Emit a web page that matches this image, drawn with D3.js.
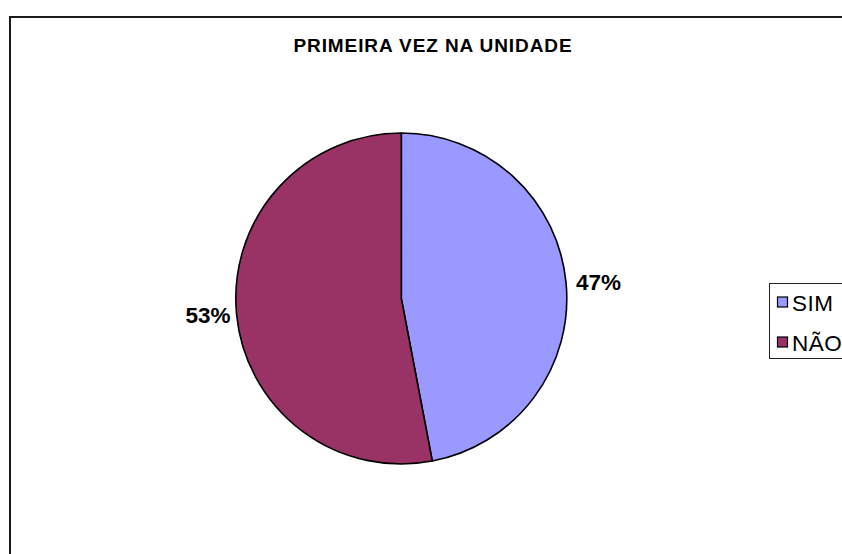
<!DOCTYPE html>
<html>
<head>
<meta charset="utf-8">
<script src="https://cdn.jsdelivr.net/npm/d3@7"></script>
<style>
  html, body { margin: 0; padding: 0; background: #fff; }
  svg { display: block; }
</style>
</head>
<body>
<svg id="chart" width="842" height="554"></svg>
<script>
const title = "PRIMEIRA VEZ NA UNIDADE";
const categories = ["SIM", "NÃO"];
const values = [47, 53];
const colors = ["#9999FF", "#993366"];

const svg = d3.select("#chart");
const W = 842, H = 554;
const font = "'Liberation Sans', Arial, sans-serif";

svg.append("rect").attr("width", W).attr("height", H).attr("fill", "#fff");

// outer chart frame (extends past right and bottom edges)
svg.append("rect")
  .attr("x", 10).attr("y", 17)
  .attr("width", 900).attr("height", 600)
  .attr("fill", "#fff")
  .attr("stroke", "#1a1a1a").attr("stroke-width", 2);

// title
svg.append("text")
  .attr("x", 433).attr("y", 52)
  .attr("text-anchor", "middle")
  .attr("font-family", font)
  .attr("font-weight", "bold")
  .attr("font-size", 19)
  .attr("letter-spacing", 0.9)
  .attr("fill", "#000")
  .text(title);

const cx = 401.3, cy = 298.5, r = 165.5;
const data = categories.map((c, i) => ({ cat: c, value: values[i], color: colors[i] }));
const pie = d3.pie().value(d => d.value).sort(null);
const arcs = pie(data);
const arc = d3.arc().innerRadius(0).outerRadius(r);

const g = svg.append("g").attr("transform", `translate(${cx},${cy})`);
g.selectAll("path.slice")
  .data(arcs)
  .join("path")
  .attr("class", "slice")
  .attr("d", arc)
  .attr("fill", d => d.data.color)
  .attr("stroke", "#000")
  .attr("stroke-width", 1.6)
  .attr("stroke-linejoin", "round");

const total = d3.sum(values);
g.selectAll("text.lbl")
  .data(arcs)
  .join("text")
  .attr("class", "lbl")
  .each(function(d) {
    const a = (d.startAngle + d.endAngle) / 2;
    const sx = Math.sin(a), sy = -Math.cos(a);
    const lr = r + (sx >= 0 ? 10 : 6);
    d3.select(this)
      .attr("x", lr * sx)
      .attr("y", lr * sy)
      .attr("dy", "0.36em")
      .attr("text-anchor", sx >= 0 ? "start" : "end");
  })
  .attr("font-family", font)
  .attr("font-weight", "bold")
  .attr("font-size", 22.5)
  .attr("fill", "#000")
  .text(d => Math.round(d.data.value / total * 100) + "%");

// legend (cut off at right edge)
const lg = svg.append("g").attr("transform", "translate(769.5,283.5)");
lg.append("rect")
  .attr("width", 120).attr("height", 75)
  .attr("fill", "#fff")
  .attr("stroke", "#222").attr("stroke-width", 1);

const ly = d3.scalePoint().domain(categories).range([19, 59]);
const items = lg.selectAll("g.item").data(data).join("g")
  .attr("class", "item")
  .attr("transform", d => `translate(0,${ly(d.cat)})`);
items.append("rect")
  .attr("x", 8).attr("y", -5.5)
  .attr("width", 10).attr("height", 10)
  .attr("fill", d => d.color)
  .attr("stroke", "#000").attr("stroke-width", 1.2);
items.append("text")
  .attr("x", 22.5).attr("y", 0)
  .attr("dy", "0.36em")
  .attr("font-family", font)
  .attr("font-size", 22.5)
  .attr("letter-spacing", 0.5)
  .attr("fill", "#000")
  .text(d => d.cat);
</script>
</body>
</html>
